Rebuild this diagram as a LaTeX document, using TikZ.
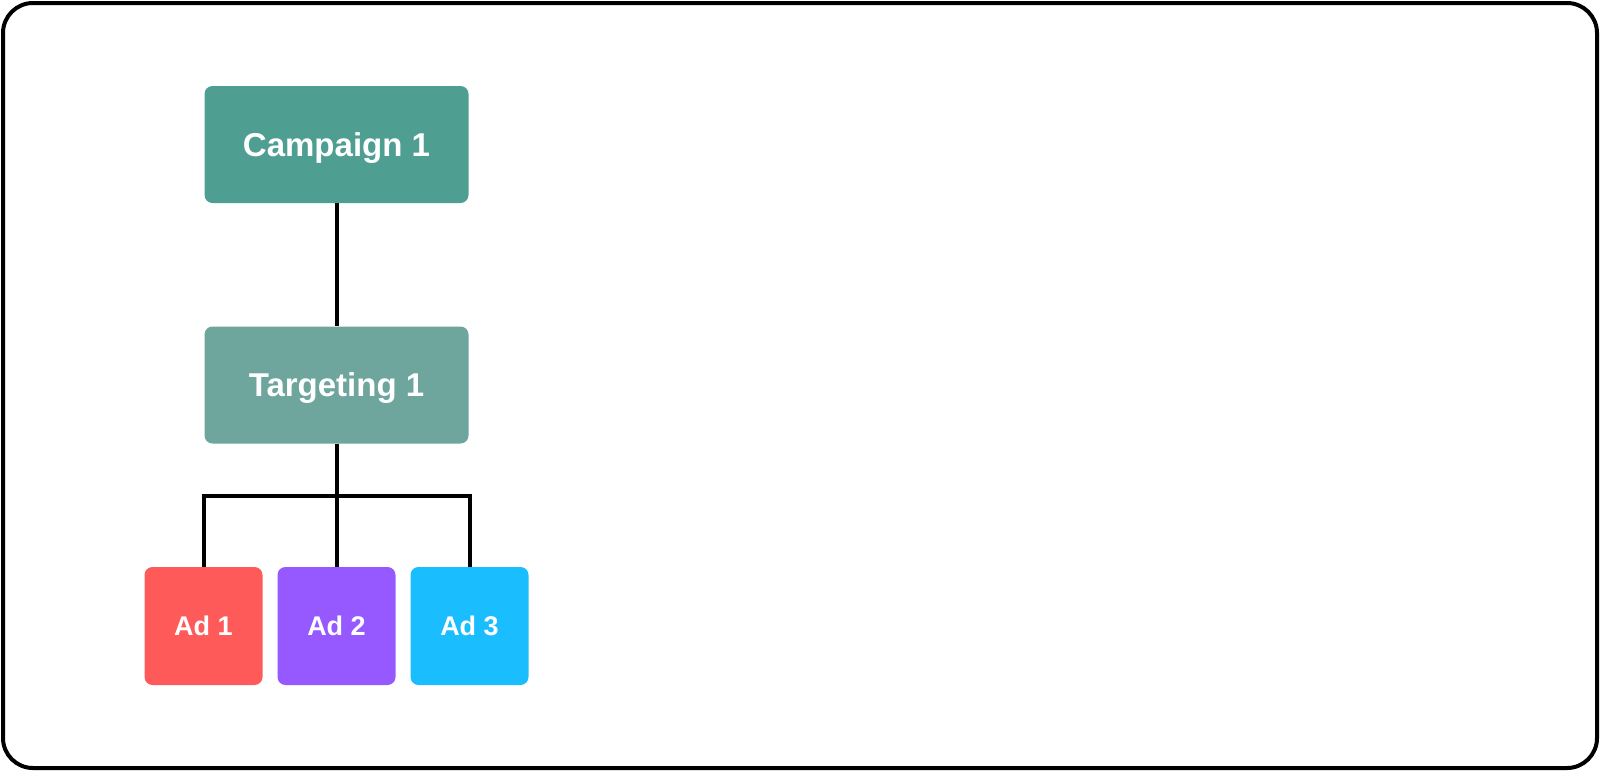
\documentclass[tikz,border=0pt]{standalone}
\usepackage{fontspec}
\setmainfont{Liberation Sans}
\usepackage{xcolor}

\begin{document}
\begin{tikzpicture}[x=0.5pt,y=-0.5pt,
  bigbox/.style={rounded corners=4pt,minimum width=132pt,minimum height=58.5pt,text depth=0pt,text=white,font=\bfseries\fontsize{16.5}{18}\selectfont},
  adbox/.style={rounded corners=4pt,minimum width=59pt,minimum height=59pt,text=white,font=\bfseries\fontsize{13.5}{15}\selectfont},
  link/.style={draw=black,line width=2pt}]
\definecolor{campteal}{HTML}{4F9E92}
\definecolor{targteal}{HTML}{6EA59C}
\definecolor{adred}{HTML}{FF5A5A}
\definecolor{adpurple}{HTML}{9659FF}
\definecolor{adblue}{HTML}{1ABEFF}
\useasboundingbox (0,0) rectangle (1600,772);
\draw[line width=2pt,rounded corners=15pt] (3,3) rectangle (1597,768);
\node [bigbox,fill=campteal] (camp) at (336.5,144.5) {Campaign 1};
\node [bigbox,fill=targteal] (targ) at (336.5,385) {Targeting 1};
  \foreach \clr/\pos in {adred/1,adpurple/2,adblue/3}
  {  \node [adbox,fill=\clr] (ad\pos) at (203.5+133*\pos-133,626) {Ad \pos};}
\coordinate (bar) at (336.5,496);
\draw [link] (camp.south) -- (targ.north);
\draw [link] (targ.south) -- (ad2.north);
\draw [link] (ad1.north) |- (bar) -| (ad3.north);
\end{tikzpicture}
\end{document}
